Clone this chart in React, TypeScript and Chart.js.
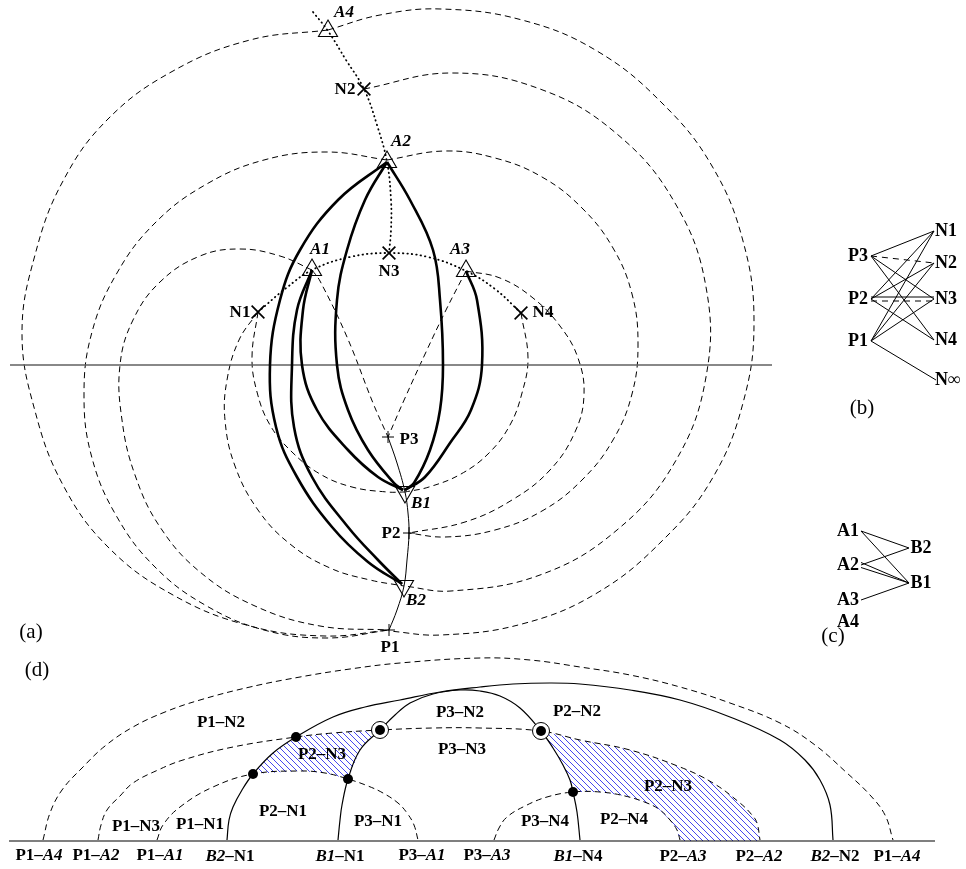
import { useEffect, useRef } from 'react';
import { Chart, registerables } from 'chart.js';

Chart.register(...registerables);

type P = [number, number];

// ---------- panel (a): sites ----------
const sitesA: P[] = [[312, 270], [387, 162], [466, 271], [328, 31]]; // A1..A4
const sitesB: P[] = [[405, 492], [404, 586]]; // B1, B2
const sitesN: P[] = [[258, 312], [364, 89], [389, 253], [521, 313]]; // N1..N4
const sitesP: P[] = [[389, 630], [409, 533], [388, 437]]; // P1..P3

// ---------- panel (a): dashed circle arcs ----------
const arcP1A4a: P[] = [[328, 30], [250, 40], [173, 71], [108, 119], [63, 181], [35, 255], [22, 333], [35, 411], [63, 485], [108, 547], [173, 595], [250, 626], [325, 636], [389, 630]];
const arcP1A4b: P[] = [[328, 30], [380, 15], [441, 9], [522, 20], [597, 51], [663, 104], [712, 166], [743, 241], [754, 322], [743, 403], [712, 479], [663, 540], [597, 593], [522, 624], [441, 635], [389, 631]];
const arcP1A2: P[] = [[387, 160], [327, 152], [264, 160], [205, 185], [155, 223], [117, 273], [92, 332], [84, 395], [92, 458], [117, 517], [155, 567], [205, 605], [264, 630], [327, 638], [389, 630]];
const arcP2A2: P[] = [[387, 160], [445, 151], [495, 158], [542, 177], [582, 208], [613, 248], [632, 294], [638, 344], [632, 394], [613, 440], [582, 480], [542, 511], [495, 530], [445, 537], [408, 533]];
const arcP1A1: P[] = [[312, 270], [280, 256], [240, 249], [200, 256], [160, 282], [133, 320], [120, 365], [122, 420], [135, 475], [160, 527], [200, 572], [255, 606], [320, 626], [389, 630]];
const arcP2A3: P[] = [[466, 271], [500, 278], [533, 298], [560, 326], [578, 358], [584, 395], [575, 432], [550, 470], [512, 500], [465, 522], [409, 533]];
const arcB2N2: P[] = [[364, 89], [451, 73], [540, 89], [617, 134], [675, 203], [706, 287], [706, 377], [675, 462], [617, 530], [540, 575], [451, 591], [404, 586]];
const arcB1N1: P[] = [[258, 312], [252, 357], [257, 392], [270, 425], [292, 452], [320, 474], [352, 487], [387, 492], [405, 492]];
const arcB2N1: P[] = [[258, 312], [239, 340], [227, 380], [225, 420], [235, 466], [258, 510], [290, 544], [330, 568], [370, 580], [404, 586]];
const arcB1N4: P[] = [[521, 313], [528, 358], [522, 393], [510, 425], [489, 453], [461, 474], [429, 487], [405, 492]];
const arcP3A1: P[] = [[312, 270], [320, 281], [347, 337], [373, 403], [388, 437]];
const arcP3A3: P[] = [[466, 271], [446, 310], [426, 352], [405, 398], [388, 437]];

// ---------- panel (a): dotted bisectors ----------
const dotUpper: P[] = [[313, 12], [328, 31], [346, 60], [364, 89], [377, 125], [387, 162], [391, 200], [391, 230], [389, 253]];
const dotArc: P[] = [[258, 312], [285, 289], [312, 270], [350, 257], [389, 253], [428, 257], [466, 271], [495, 289], [521, 313]];

// ---------- panel (a): path through P points, and the horizon ----------
const pathP: P[] = [[388, 437], [397, 463], [405, 492], [408, 513], [409, 533], [407, 560], [404, 586], [397, 610], [389, 630]];
const horizon: P[] = [[10, 365], [772, 365]];

// ---------- panel (a): thick links A -> B ----------
const linkA2B2: P[] = [[387, 162], [338, 200], [300, 250], [280, 300], [270, 365], [276, 427], [297, 477], [332, 527], [368, 562], [402, 584]];
const linkA2B1a: P[] = [[387, 162], [365, 200], [347, 250], [337, 300], [337, 365], [348, 410], [368, 450], [394, 483], [403, 490]];
const linkA2B1b: P[] = [[387, 162], [410, 200], [433, 250], [440, 300], [443, 365], [440, 410], [430, 450], [414, 483], [405, 490]];
const linkA1B2: P[] = [[312, 270], [297, 310], [292, 365], [294, 427], [312, 477], [348, 527], [378, 560], [402, 584]];
const linkA1B1: P[] = [[312, 270], [303, 310], [302, 365], [317, 410], [348, 450], [378, 477], [403, 490]];
const linkA3B1: P[] = [[466, 271], [477, 300], [482, 365], [471, 410], [450, 443], [425, 477], [405, 490]];

// ---------- panel (d): arrangement ----------
const baseD: P[] = [[9, 841], [935, 841]];
const dP1A4: P[] = [[43, 840], [50, 813], [62, 790], [83, 767], [105, 746], [133, 727], [165, 712], [200, 700], [250, 687], [300, 677], [350, 669], [400, 663], [480, 658], [530, 660], [580, 667], [630, 675], [680, 687], [730, 703], [780, 723], [815, 745], [847, 773], [870, 795], [885, 815], [893, 840]];
const dB2N: P[] = [[227, 840], [229, 820], [233, 807], [242, 790], [253, 774], [273, 753], [296, 737], [333, 717], [365, 707], [400, 700], [440, 692], [480, 687], [513, 684], [550, 683], [580, 684], [630, 690], [680, 700], [730, 717], [780, 740], [805, 760], [820, 780], [830, 805], [833, 840]];
const dB1N: P[] = [[338, 840], [340, 820], [342, 805], [348, 779], [360, 750], [380, 730], [395, 715], [410, 703], [433, 694], [460, 690], [480, 691], [500, 696], [520, 708], [541, 731], [553, 748], [563, 765], [570, 780], [573, 792], [577, 812], [580, 840]];
const dP1A1: P[] = [[157, 840], [163, 825], [180, 807], [213, 787], [253, 774], [300, 771], [325, 773], [348, 779], [368, 786], [383, 793], [398, 803], [407, 813], [414, 825], [418, 840]];
const dP3A3: P[] = [[494, 840], [499, 828], [507, 817], [525, 806], [547, 797], [573, 792], [600, 792], [625, 796], [647, 803], [660, 810], [670, 820], [677, 830], [680, 840]];
const dP1A2: P[] = [[98, 840], [101, 825], [107, 810], [120, 796], [133, 783], [158, 770], [183, 760], [233, 747], [296, 737], [333, 733], [380, 730], [433, 728], [480, 728], [541, 731], [580, 740], [630, 750], [680, 767], [713, 783], [740, 803], [752, 815], [757, 823], [760, 840]];
const hatchLeft: P[] = [[253, 774], [273, 753], [296, 737], [333, 733], [380, 730], [360, 750], [348, 779], [325, 773], [300, 771]];
const hatchRight: P[] = [[541, 731], [580, 740], [630, 750], [680, 767], [713, 783], [740, 803], [752, 815], [757, 823], [760, 841], [680, 841], [677, 830], [670, 820], [660, 810], [647, 803], [625, 796], [600, 792], [573, 792], [570, 780], [563, 765], [553, 748]];
const vertexDots: P[] = [[253, 774], [296, 737], [348, 779], [573, 792], [380, 730], [541, 731]];
const ringedDots: P[] = [[380, 730], [541, 731]];

// ---------- panel (b): P–N incidence graph ----------
const nodesBL: Record<string, P> = { P3: [858, 256], P2: [858, 299], P1: [858, 341] };
const nodesBR: Record<string, P> = { N1: [946, 231], N2: [946, 263], N3: [946, 299], N4: [946, 340], 'N∞': [948, 380] };
const edgesBSolid: [string, string][] = [['P3', 'N1'], ['P3', 'N3'], ['P3', 'N4'], ['P2', 'N1'], ['P2', 'N2'], ['P2', 'N3'], ['P2', 'N4'], ['P1', 'N1'], ['P1', 'N2'], ['P1', 'N3'], ['P1', 'N∞']];
const edgesBDashed: [string, string][] = [['P3', 'N2'], ['P2', 'N3']];

// ---------- panel (c): A–B graph ----------
const nodesCL: Record<string, P> = { A1: [848, 531], A2: [848, 565], A3: [848, 600], A4: [848, 622] };
const nodesCR: Record<string, P> = { B2: [921, 548], B1: [921, 583] };
const edgesC: [string, string][] = [['A1', 'B2'], ['A1', 'B1'], ['A2', 'B2'], ['A2', 'B1'], ['A2', 'B1'], ['A3', 'B1']];

// ---------- text ----------
const labelsA: [string, number, number][] = [
  ['*A4*', 344, 13], ['N2', 345, 90], ['*A2*', 401, 142], ['*A1*', 320, 250], ['N3', 389, 272], ['*A3*', 460, 250],
  ['N1', 240, 313], ['N4', 543, 313], ['P3', 409, 440], ['*B1*', 421, 504], ['P2', 391, 534], ['*B2*', 416, 601], ['P1', 390, 648],
];
const labelsD: [string, number, number][] = [
  ['P1–N2', 221, 723], ['P1–N3', 136, 827], ['P1–N1', 200, 825], ['P2–N1', 283, 812], ['P3–N1', 378, 822], ['P2–N3', 322, 755],
  ['P3–N2', 460, 713], ['P3–N3', 462, 750], ['P2–N2', 577, 712], ['P2–N3', 668, 787], ['P3–N4', 545, 822], ['P2–N4', 624, 820],
];
const labelsBase: [string, number, number][] = [
  ['P1–*A4*', 39, 856], ['P1–*A2*', 96, 856], ['P1–*A1*', 160, 856], ['*B2*–N1', 230, 857], ['*B1*–N1', 340, 857], ['P3–*A1*', 422, 856],
  ['P3–*A3*', 487, 856], ['*B1*–N4', 578, 857], ['P2–*A3*', 683, 857], ['P2–*A2*', 759, 857], ['*B2*–N2', 835, 857], ['P1–*A4*', 897, 857],
];
const panelTags: [string, number, number][] = [['(a)', 31, 632], ['(b)', 862, 408], ['(c)', 833, 636], ['(d)', 37, 670]];

const FONT = '"Liberation Serif", "Times New Roman", serif';

const xy = (a: P[]) => a.map(([x, y]) => ({ x, y }));

const curve = (a: P[], extra: Record<string, unknown> = {}) => ({
  data: xy(a),
  showLine: true,
  borderColor: '#000',
  borderWidth: 1,
  pointRadius: 0,
  tension: 0.4,
  fill: false,
  ...extra,
});

const DASH = { borderDash: [6, 4] };
const DOT = { borderDash: [0.5, 4], borderCapStyle: 'round', borderWidth: 1.8 };
const THICK = { borderWidth: 2.6 };

function buildDatasets() {
  const ds: any[] = [];
  // markers first so they sit on top
  ds.push({ data: xy(sitesA), pointStyle: 'triangle', pointRadius: 11, pointBorderWidth: 1.1, pointBorderColor: '#000', pointBackgroundColor: 'rgba(0,0,0,0)', showLine: false });
  ds.push({ data: xy(sitesB), pointStyle: 'triangle', pointRotation: 180, pointRadius: 11, pointBorderWidth: 1.1, pointBorderColor: '#000', pointBackgroundColor: 'rgba(0,0,0,0)', showLine: false });
  ds.push({ data: xy(sitesN), pointStyle: 'crossRot', pointRadius: 9, pointBorderWidth: 1.7, pointBorderColor: '#000', showLine: false });
  ds.push({ data: xy(sitesP), pointStyle: 'cross', pointRadius: 6, pointBorderWidth: 1, pointBorderColor: '#000', showLine: false });
  ds.push({ data: xy(vertexDots), pointStyle: 'circle', pointRadius: 5, pointBorderWidth: 0, pointBackgroundColor: '#000', showLine: false });
  ds.push({ data: xy(ringedDots), pointStyle: 'circle', pointRadius: 8.5, pointBorderWidth: 1, pointBorderColor: '#000', pointBackgroundColor: '#fff', showLine: false });

  // thick links
  for (const l of [linkA2B2, linkA2B1a, linkA2B1b, linkA1B2, linkA1B1, linkA3B1]) ds.push(curve(l, THICK));
  // path and horizon
  ds.push(curve(pathP, { borderWidth: 1 }));
  ds.push(curve(horizon, { tension: 0, borderColor: '#606060', borderWidth: 1.5 }));
  // dotted bisectors
  ds.push(curve(dotUpper, DOT));
  ds.push(curve(dotArc, DOT));
  // dashed arcs
  for (const a of [arcP1A4a, arcP1A4b, arcP1A2, arcP2A2, arcP1A1, arcP2A3, arcB2N2, arcB1N1, arcB2N1, arcB1N4, arcP3A1, arcP3A3]) ds.push(curve(a, DASH));

  // panel (d)
  ds.push(curve(baseD, { tension: 0, borderWidth: 1.2 }));
  ds.push(curve(dB2N, { borderWidth: 1.2 }));
  ds.push(curve(dB1N, { borderWidth: 1.2 }));
  for (const a of [dP1A4, dP1A1, dP3A3, dP1A2]) ds.push(curve(a, DASH));

  // panel (b)
  const edgeB = (e: [string, string], dashed: boolean) => {
    const [lx, ly] = nodesBL[e[0]];
    const [rx, ry] = nodesBR[e[1]];
    const twin = e[0] === 'P2' && e[1] === 'N3' ? (dashed ? 2 : -2) : 0;
    return curve([[lx + 13, ly + twin], [rx - 12, ry + twin]], { tension: 0, borderWidth: 1, ...(dashed ? { borderDash: [6, 5] } : {}) });
  };
  edgesBSolid.forEach((e) => ds.push(edgeB(e, false)));
  edgesBDashed.forEach((e) => ds.push(edgeB(e, true)));

  // panel (c)
  const seen: Record<string, number> = {};
  edgesC.forEach((e) => {
    const k = e.join('-');
    seen[k] = (seen[k] || 0) + 1;
    const off = k === 'A2-B1' ? (seen[k] === 1 ? -2.5 : 2.5) : 0;
    const [lx, ly] = nodesCL[e[0]];
    const [rx, ry] = nodesCR[e[1]];
    ds.push(curve([[lx + 13, ly + off], [rx - 12, ry]], { tension: 0, borderWidth: 1 }));
  });
  return ds;
}

function drawRich(ctx: CanvasRenderingContext2D, text: string, x: number, y: number, size: number, weight: string) {
  const parts = text.split('*');
  const fonts = parts.map((_, i) => `${i % 2 ? 'italic ' : ''}${weight} ${size}px ${FONT}`);
  const widths = parts.map((p, i) => {
    ctx.font = fonts[i];
    return ctx.measureText(p).width;
  });
  let cx = x - widths.reduce((s, w) => s + w, 0) / 2;
  parts.forEach((p, i) => {
    ctx.font = fonts[i];
    ctx.fillText(p, cx, y);
    cx += widths[i];
  });
}

function hatchPattern(ctx: CanvasRenderingContext2D) {
  const s = 6;
  const tile = document.createElement('canvas');
  tile.width = s;
  tile.height = s;
  const t = tile.getContext('2d')!;
  t.strokeStyle = 'rgba(40,40,235,0.85)';
  t.lineWidth = 1;
  t.beginPath();
  for (let k = -1; k <= 1; k++) {
    t.moveTo(k * s, 0);
    t.lineTo(k * s + s, s);
  }
  t.stroke();
  return ctx.createPattern(tile, 'repeat');
}

const overlay = {
  id: 'overlay',
  beforeDatasetsDraw(chart: any) {
    const { ctx, scales } = chart;
    const sx = scales.x;
    const sy = scales.y;
    ctx.save();
    ctx.fillStyle = hatchPattern(ctx);
    for (const poly of [hatchLeft, hatchRight]) {
      ctx.beginPath();
      poly.forEach(([px, py], i) => {
        const X = sx.getPixelForValue(px);
        const Y = sy.getPixelForValue(py);
        if (i) ctx.lineTo(X, Y);
        else ctx.moveTo(X, Y);
      });
      ctx.closePath();
      ctx.fill();
    }
    ctx.restore();
  },
  afterDatasetsDraw(chart: any) {
    const { ctx, scales } = chart;
    const sx = scales.x;
    const sy = scales.y;
    ctx.save();
    ctx.fillStyle = '#000';
    ctx.textAlign = 'left';
    ctx.textBaseline = 'middle';
    const put = (list: [string, number, number][], size: number, weight: string) =>
      list.forEach(([t, x, y]) => drawRich(ctx, t, sx.getPixelForValue(x), sy.getPixelForValue(y), size, weight));
    put(labelsA, 17, 'bold');
    put(labelsD, 17, 'bold');
    put(labelsBase, 17, 'bold');
    put(Object.entries(nodesBL).map(([k, v]) => [k, v[0], v[1]] as [string, number, number]), 18, 'bold');
    put(Object.entries(nodesBR).map(([k, v]) => [k, v[0], v[1]] as [string, number, number]), 18, 'bold');
    put(Object.entries(nodesCL).map(([k, v]) => [k, v[0], v[1]] as [string, number, number]), 18, 'bold');
    put(Object.entries(nodesCR).map(([k, v]) => [k, v[0], v[1]] as [string, number, number]), 18, 'bold');
    put(panelTags, 21, 'normal');
    ctx.restore();
  },
};

export default function App() {
  const ref = useRef<HTMLCanvasElement>(null);
  useEffect(() => {
    document.body.style.margin = '0';
    const canvas = ref.current!;
    const chart = new Chart(canvas, {
      type: 'scatter',
      data: { datasets: buildDatasets() },
      options: {
        animation: false,
        responsive: false,
        devicePixelRatio: 1,
        events: [],
        layout: { padding: 0, autoPadding: false },
        plugins: { legend: { display: false }, tooltip: { enabled: false } },
        scales: {
          x: { type: 'linear', min: 0, max: 966, display: false },
          y: { type: 'linear', min: 0, max: 869, reverse: true, display: false },
        },
      } as any,
      plugins: [overlay],
    });
    return () => chart.destroy();
  }, []);
  return <canvas ref={ref} width={966} height={869} style={{ display: 'block', width: 966, height: 869, background: '#fff' }} />;
}
